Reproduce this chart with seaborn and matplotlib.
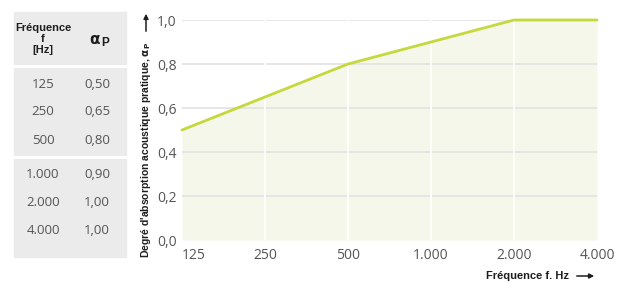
import numpy as np
import matplotlib
matplotlib.use("Agg")
import matplotlib.pyplot as plt
import matplotlib.patches as mpatches
import seaborn as sns
import pandas as pd

freq_labels = ['125', '250', '500', '1.000', '2.000', '4.000']
alpha_p = [0.50, 0.65, 0.80, 0.90, 1.00, 1.00]
alpha_labels = ['0,50', '0,65', '0,80', '0,90', '1,00', '1,00']
y_ticks = [0.0, 0.2, 0.4, 0.6, 0.8, 1.0]
y_tick_labels = ['0,0', '0,2', '0,4', '0,6', '0,8', '1,0']

sns.set_style('white')
plt.rcParams['font.family'] = ['Open Sans', 'DejaVu Sans']
BOLD = ['Liberation Sans', 'DejaVu Sans']

W, H = 632, 283
fig = plt.figure(figsize=(W / 100, H / 100), dpi=100)

def fx(px):
    return px / W

def fy(py):
    return 1 - py / H

LINE = '#c6d83c'
FILL = '#f5f7ea'
TXT = '#555555'
DARK = '#1e1e1e'

# table panel on the left
fig.patches.append(mpatches.Rectangle((fx(14), fy(257)), fx(126) - fx(14), fy(12) - fy(257),
                                      transform=fig.transFigure, color='#ebebeb', zorder=0))
for yy in (66, 157):
    fig.lines.append(plt.Line2D([fx(14), fx(126)], [fy(yy), fy(yy)], transform=fig.transFigure,
                                color='white', lw=2.2))
fig.text(fx(43), fy(39), 'Fréquence\nf\n[Hz]', ha='center', va='center', fontsize=8,
         fontweight='bold', family=BOLD, linespacing=1.1, color=DARK)
fig.text(fx(95), fy(41), r'$\mathbf{\alpha}$', ha='center', va='center', fontsize=11, color=DARK)
fig.text(fx(101), fy(43), 'P', ha='left', va='center', fontsize=8.5, fontweight='bold',
         family=BOLD, color=DARK)
row_y = [84, 112, 140, 174, 202, 230]
for yy, fl, al in zip(row_y, freq_labels, alpha_labels):
    fig.text(fx(43), fy(yy), fl, ha='center', va='center', fontsize=9.5, color=TXT)
    fig.text(fx(97), fy(yy), al, ha='center', va='center', fontsize=9.5, color=TXT)

# chart
ax = fig.add_axes([fx(182), fy(240), fx(597) - fx(182), fy(20) - fy(240)])
df = pd.DataFrame({'pos': np.arange(len(freq_labels)), 'alpha': alpha_p})
ax.fill_between(df['pos'], df['alpha'], 0, color=FILL, lw=0, zorder=1)
for yt in y_ticks[1:]:
    ax.axhline(yt, color='#e4e4e4', lw=1.3, zorder=2)
for xp in df['pos'][1:-1]:
    ax.axvline(xp, color='white', lw=1.3, zorder=3)
sns.lineplot(data=df, x='pos', y='alpha', ax=ax, color=LINE, lw=2.0, zorder=4, clip_on=False)

ax.set_xlim(0, len(freq_labels) - 1)
ax.set_ylim(0, 1)
ax.set_xticks(df['pos'])
ax.set_xticklabels(freq_labels)
ax.get_xticklabels()[0].set_ha('left')
ax.set_yticks(y_ticks)
ax.set_yticklabels(y_tick_labels)
ax.tick_params(length=0, labelsize=10, labelcolor=TXT)
ax.tick_params(axis='y', pad=4)
ax.tick_params(axis='x', pad=6)
for s in ax.spines.values():
    s.set_visible(False)
ax.set_xlabel('')
ax.set_ylabel('')

fig.text(fx(146), fy(258), "Degré d'absorption acoustique pratique, " + r'$\mathbf{\alpha_P}$',
         rotation=90, ha='center', va='bottom', fontsize=7.5, fontweight='bold', family=BOLD,
         color=DARK)
fig.add_artist(mpatches.FancyArrowPatch((fx(146), fy(34)), (fx(146), fy(11)),
                                        transform=fig.transFigure, arrowstyle='-|>',
                                        mutation_scale=7, lw=1.1, color=DARK))
fig.text(fx(569), fy(276), 'Fréquence f. Hz', ha='right', va='center', fontsize=8,
         fontweight='bold', family=BOLD, color=DARK)
fig.add_artist(mpatches.FancyArrowPatch((fx(574), fy(276)), (fx(597), fy(276)),
                                        transform=fig.transFigure, arrowstyle='-|>',
                                        mutation_scale=7, lw=1.1, color=DARK))

fig.savefig('out.png', dpi=100)
